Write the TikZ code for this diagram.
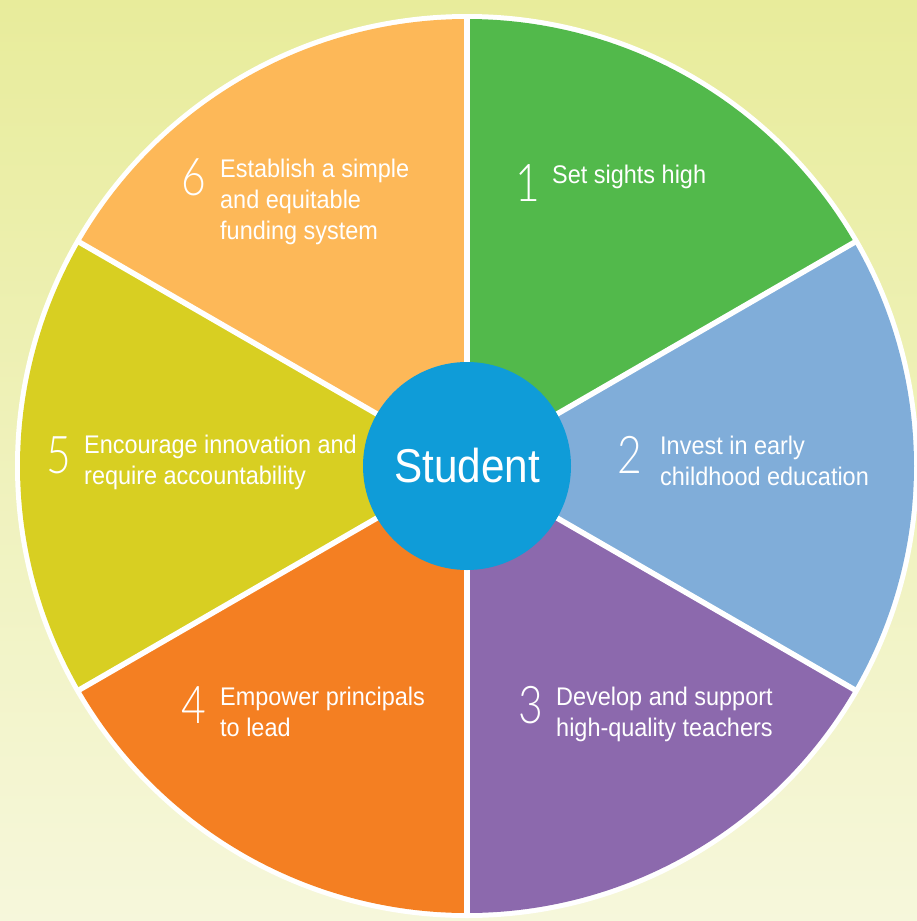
\documentclass[tikz,border=0pt]{standalone}
\usepackage{fontspec}
\newfontfamily\txtfont[FakeStretch=0.92]{Liberation Sans}
\newfontfamily\stufont[FakeStretch=0.89]{Liberation Sans}
\newfontfamily\digfont[FakeStretch=0.82]{Lato-Light}
\definecolor{bgtop}{RGB}{232,236,155}
\definecolor{bgbot}{RGB}{246,247,219}
\definecolor{cgreen}{RGB}{82,185,75}
\definecolor{cblue}{RGB}{128,173,217}
\definecolor{cpurple}{RGB}{140,105,173}
\definecolor{corange}{RGB}{244,127,34}
\definecolor{colive}{RGB}{216,207,34}
\definecolor{clorange}{RGB}{253,184,88}
\definecolor{cstudent}{RGB}{15,156,216}
\tikzset{
  lbl/.style={anchor=base west, inner sep=0pt, text=white, align=left,
    font=\txtfont\fontsize{25.5}{31}\selectfont},
  dig/.style={anchor=base, inner sep=0pt, text=white,
    font=\digfont\fontsize{52}{52}\selectfont},
  sep/.style={white, line width=5.5pt},
}
\begin{document}
\begin{tikzpicture}[x=1pt,y=-1pt]
\useasboundingbox (0,0) rectangle (917,921);
\shade[top color=bgtop, middle color=bgtop, bottom color=bgbot] (0,0) rectangle (917,921);
\coordinate (C) at (467,466);
\fill[white] (C) circle[radius=452];
\fill[cgreen]   (C) -- ++(-90:447) arc[start angle=-90, end angle=-30, radius=447] -- cycle;
\fill[cblue]    (C) -- ++(-30:447) arc[start angle=-30, end angle=30, radius=447] -- cycle;
\fill[cpurple]  (C) -- ++(30:447) arc[start angle=30, end angle=90, radius=447] -- cycle;
\fill[corange]  (C) -- ++(90:447) arc[start angle=90, end angle=150, radius=447] -- cycle;
\fill[colive]   (C) -- ++(150:447) arc[start angle=150, end angle=210, radius=447] -- cycle;
\fill[clorange] (C) -- ++(210:447) arc[start angle=210, end angle=270, radius=447] -- cycle;
\foreach \a in {-90,-30,30,90,150,210} \draw[sep] (C) -- ++(\a:450);
\node[circle, fill=cstudent, minimum size=208pt, inner sep=0pt, text=white,
  font=\stufont\fontsize{47.5}{50}\selectfont] (student) at (C) {Student};
% digits
\node[dig] (d1) at (528,201) {1};
\node[dig] (d2) at (630,473) {2};
\node[dig] (d3) at (531,723) {3};
\node[dig] (d4) at (194,723) {4};
\node[dig] (d5) at (59,473) {5};
\node[dig] (d6) at (194,195) {6};
% labels (base anchor = baseline of the last line)
\node[lbl] (t1) at (552,183) {Set sights high};
\node[lbl] (t2) at (660,485) {Invest in early\\childhood education};
\node[lbl] (t3) at (556,736) {Develop and support\\high-quality teachers};
\node[lbl] (t4) at (220,736) {Empower principals\\to lead};
\node[lbl] (t5) at (84,484) {Encourage innovation and\\require accountability};
\node[lbl] (t6) at (220,239) {Establish a simple\\and equitable\\funding system};
\end{tikzpicture}
\end{document}
